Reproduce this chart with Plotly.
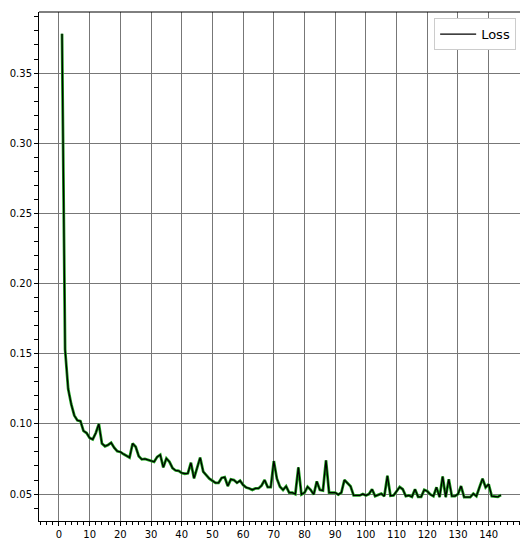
import plotly.graph_objects as go

epochs = list(range(1, 145))
loss = [
    0.378, 0.153, 0.125, 0.114, 0.106, 0.1025, 0.102, 0.095, 0.0935, 0.090,
    0.089, 0.0935, 0.0999, 0.086, 0.084, 0.085, 0.0866, 0.083, 0.0805, 0.080,
    0.0785, 0.077, 0.076, 0.086, 0.0837, 0.077, 0.0747, 0.075, 0.0745, 0.074,
    0.073, 0.0765, 0.078, 0.069, 0.0754, 0.073, 0.0685, 0.0668, 0.0666, 0.065,
    0.0645, 0.0648, 0.0723, 0.0612, 0.068, 0.076, 0.066, 0.0635, 0.061, 0.0595,
    0.058, 0.058, 0.0615, 0.062, 0.0557, 0.0605, 0.060, 0.058, 0.0595, 0.0565,
    0.0547, 0.054, 0.053, 0.054, 0.054, 0.056, 0.060, 0.055, 0.055, 0.0735,
    0.061, 0.0552, 0.053, 0.0555, 0.051, 0.051, 0.050, 0.069, 0.0497, 0.051,
    0.0552, 0.053, 0.0497, 0.059, 0.053, 0.0525, 0.074, 0.051, 0.051, 0.051,
    0.0496, 0.051, 0.060, 0.0575, 0.0555, 0.049, 0.049, 0.049, 0.050, 0.049,
    0.050, 0.0534, 0.0485, 0.0497, 0.0503, 0.0485, 0.063, 0.0488, 0.049, 0.052,
    0.055, 0.0534, 0.0485, 0.049, 0.048, 0.0534, 0.048, 0.048, 0.053, 0.052,
    0.0497, 0.0485, 0.0548, 0.0478, 0.0625, 0.0478, 0.0605, 0.0485, 0.0485, 0.050,
    0.0557, 0.0478, 0.0478, 0.0478, 0.0503, 0.0485, 0.0548, 0.061, 0.0548, 0.057,
    0.0485, 0.0485, 0.048, 0.0493,
]

x_ticks = list(range(0, 150, 10))
y_ticks = [0.05, 0.10, 0.15, 0.20, 0.25, 0.30, 0.35]
y_tick_text = ["0.05", "0.10", "0.15", "0.20", "0.25", "0.30", "0.35"]

fig = go.Figure()
fig.add_trace(go.Scatter(x=epochs, y=loss, mode="lines",
                         line=dict(color="#1ea01e", width=2.8),
                         showlegend=False, hoverinfo="skip"))
fig.add_trace(go.Scatter(x=epochs, y=loss, mode="lines", name="Loss",
                         line=dict(color="black", width=1.3)))

fig.update_layout(
    width=520, height=543,
    margin=dict(l=39, r=0, t=12, b=22, autoexpand=False),
    paper_bgcolor="white", plot_bgcolor="white",
    font=dict(family="DejaVu Sans", size=10, color="black"),
    legend=dict(x=0.992, y=0.988, xanchor="right", yanchor="top",
                bgcolor="white", bordercolor="#cccccc", borderwidth=1,
                font=dict(size=13, family="DejaVu Sans"), itemwidth=36),
    xaxis=dict(range=[-6.5, 150.2], tickvals=x_ticks, automargin=False,
               showgrid=True, gridcolor="#777777", gridwidth=1.4,
               zeroline=False, showline=True, linecolor="black", linewidth=1,
               ticks="outside", ticklen=4, tickcolor="black",
               minor=dict(ticks="outside", ticklen=3, dtick=2, tick0=0,
                          tickcolor="black", showgrid=False)),
    yaxis=dict(range=[0.0308, 0.3935], tickvals=y_ticks, ticktext=y_tick_text,
               automargin=False,
               showgrid=True, gridcolor="#777777", gridwidth=1.4,
               zeroline=False, showline=True, linecolor="black", linewidth=1,
               ticks="outside", ticklen=4, tickcolor="black",
               minor=dict(ticks="outside", ticklen=4, dtick=0.01, tick0=0,
                          tickcolor="black", showgrid=False)),
)
# top spine
fig.add_shape(type="line", xref="paper", yref="paper", x0=0, x1=1, y0=1, y1=1,
              line=dict(color="black", width=1))

fig.write_html("out.html", config={"displayModeBar": False},
               post_script="document.body.style.margin='0';document.body.style.overflow='hidden';")
